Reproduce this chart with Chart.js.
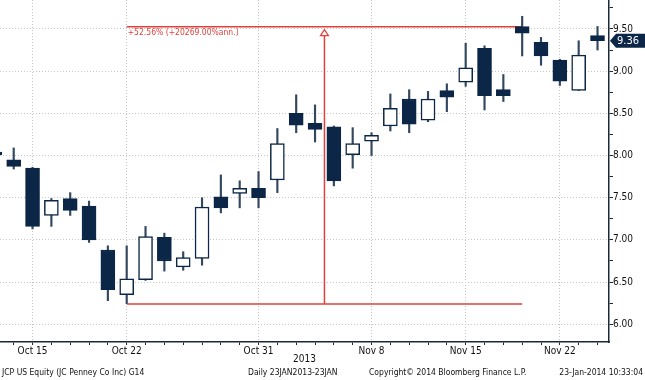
<!DOCTYPE html>
<html><head><meta charset="utf-8">
<script src="https://cdn.jsdelivr.net/npm/chart.js@4/dist/chart.umd.min.js"></script>
<style>html,body{margin:0;padding:0;background:#fff;overflow:hidden}</style>
</head><body>
<canvas id="c" width="645" height="380"></canvas>
<script>
// ---- data ----
const dates = ['Oct 11','Oct 14','Oct 15','Oct 16','Oct 17','Oct 18','Oct 21','Oct 22','Oct 23','Oct 24','Oct 25',
  'Oct 28','Oct 29','Oct 30','Oct 31','Nov 1','Nov 4','Nov 5','Nov 6','Nov 7','Nov 8','Nov 11','Nov 12','Nov 13',
  'Nov 14','Nov 15','Nov 18','Nov 19','Nov 20','Nov 21','Nov 22','Nov 25','Nov 26'];
const openP  = [8.04,7.95,7.85,7.29,7.49,7.40,6.88,6.35,6.53,7.03,6.68,6.78,7.51,7.55,7.61,7.71,8.50,8.38,8.34,8.01,8.17,8.35,8.67,8.42,8.77,8.87,9.27,8.78,9.527,9.34,9.13,8.77,9.42];
const highP  = [8.08,8.09,7.86,7.49,7.56,7.46,6.93,6.93,7.16,7.08,6.86,7.50,7.77,7.70,7.81,8.32,8.72,8.60,8.35,8.33,8.27,8.73,8.78,8.76,8.85,9.33,9.30,8.96,9.65,9.40,9.14,9.36,9.53];
const lowP   = [7.98,7.84,7.13,7.16,7.29,6.97,6.28,6.245,6.52,6.63,6.64,6.70,7.32,7.38,7.38,7.56,8.27,8.16,7.64,7.85,8.00,8.29,8.27,8.40,8.52,8.82,8.54,8.64,9.18,9.07,8.83,8.77,9.25];
const closeP = [8.01,7.87,7.16,7.47,7.35,7.00,6.41,6.54,7.04,6.75,6.79,7.39,7.38,7.61,7.50,8.14,8.36,8.31,7.70,8.14,8.24,8.56,8.37,8.67,8.69,9.04,8.71,8.71,9.45,9.18,8.88,9.19,9.36];
const xTickLabels = ['Oct 15','Oct 22','Oct 31','Nov 8','Nov 15','Nov 22'];
const yMajorTicks = [6.00,6.50,7.00,7.50,8.00,8.50,9.00,9.50];
const yMinorTicks = [6.25,6.75,7.25,7.75,8.25,8.75,9.25,9.75];
// measurement annotation: from Oct 22 low to Nov 20 high
const annStartIdx = 7, annEndIdx = 28;
const annLow = 6.24, annHigh = 9.527;
const annText = '+52.56% (+20269.00%ann.)';
const yearLabel = '2013';
const footerLeft = 'JCP US Equity (JC Penney Co Inc) G14';
const footerMid1 = 'Daily 23JAN2013-23JAN';
const footerMid2 = 'Copyright\u00A9 2014 Bloomberg Finance L.P.';
const footerRight = '23-Jan-2014 10:33:04';

// ---- styling ----
const FONT = '"DejaVu Sans Condensed","DejaVu Sans",sans-serif';
const NAVY = '#0b2646';
const WICK = '#33475e';
const GRID = '#c4c4c4';
const AXIS = '#1a2a3a';
const RED = '#e2403c';

const labelSet = new Set(xTickLabels);
const bodyData = dates.map((d,i)=>({x:i, y:[openP[i], closeP[i]]}));
const wickData = dates.map((d,i)=>({x:i, y:[lowP[i], highP[i]]}));
const bodyFill = dates.map((d,i)=> closeP[i] >= openP[i] ? '#ffffff' : NAVY);
const isMajorY = v => yMajorTicks.some(t => Math.abs(t - v) < 1e-6);

const extras = {
  id:'extras',
  beforeDatasetsDraw(chart){
    const {ctx, scales:{x, y}} = chart;
    const x1 = x.getPixelForValue(annStartIdx), x2 = x.getPixelForValue(annEndIdx);
    const yl = y.getPixelForValue(annLow), yh = y.getPixelForValue(annHigh);
    const xm = x.getPixelForValue((annStartIdx + annEndIdx)/2);
    ctx.save();
    ctx.strokeStyle = RED; ctx.lineWidth = 1.5;
    ctx.beginPath();
    ctx.moveTo(x1, yh); ctx.lineTo(x2, yh);
    ctx.moveTo(x1, yl); ctx.lineTo(x2, yl);
    ctx.moveTo(xm, yl); ctx.lineTo(xm, yh + 9);
    ctx.stroke();
    // hollow arrow head
    ctx.beginPath();
    ctx.moveTo(xm, yh + 3); ctx.lineTo(xm - 4, yh + 9); ctx.lineTo(xm + 4, yh + 9); ctx.closePath();
    ctx.fillStyle = '#fff'; ctx.fill(); ctx.lineWidth = 1.2; ctx.stroke();
    ctx.fillStyle = RED;
    ctx.font = '8.5px ' + FONT;
    ctx.textBaseline = 'middle'; ctx.textAlign = 'left';
    ctx.fillText(annText, x1 + 1, yh + 6);
    ctx.restore();
  },
  afterDraw(chart){
    const {ctx, chartArea, scales:{y}} = chart;
    ctx.save();
    // last price tag
    const last = closeP[closeP.length-1];
    const py = y.getPixelForValue(last);
    const ax = chartArea.right;
    ctx.fillStyle = NAVY;
    ctx.beginPath();
    ctx.moveTo(ax + 1, py); ctx.lineTo(ax + 7, py - 7); ctx.lineTo(645, py - 7);
    ctx.lineTo(645, py + 7); ctx.lineTo(ax + 7, py + 7); ctx.closePath(); ctx.fill();
    ctx.fillStyle = '#fff'; ctx.font = '11px ' + FONT;
    ctx.textBaseline = 'middle'; ctx.textAlign = 'left';
    ctx.fillText(last.toFixed(2), ax + 8, py + 0.5);
    // year
    ctx.fillStyle = '#111'; ctx.font = '10px ' + FONT; ctx.textAlign = 'center';
    ctx.fillText(yearLabel, (chartArea.left + chartArea.right)/2, 359);
    // footer
    ctx.font = '8.5px ' + FONT; ctx.textAlign = 'left';
    ctx.fillText(footerLeft, 2, 373);
    ctx.fillText(footerMid1, 248, 373);
    ctx.fillText(footerMid2, 369, 373);
    ctx.textAlign = 'right';
    ctx.fillText(footerRight, 643, 373);
    ctx.restore();
  }
};

new Chart(document.getElementById('c'), {
  type:'bar',
  data:{datasets:[
    {label:'body', data: bodyData, backgroundColor: bodyFill, borderColor: NAVY, borderWidth:1.5,
     borderSkipped:false, barThickness:14, grouped:false, order:0, clip:0},
    {label:'wick', data: wickData, backgroundColor: WICK, borderWidth:0,
     barThickness:1.5, grouped:false, order:1, clip:0}
  ]},
  options:{
    responsive:false, animation:false, devicePixelRatio:1,
    layout:{padding:0},
    plugins:{legend:{display:false}, tooltip:{enabled:false}},
    scales:{
      x:{type:'linear', min:0.272, max:32.61, offset:false,
        afterBuildTicks(s){ s.ticks = dates.map((d,i)=>({value:i})).filter(t=>t.value>=1); },
        afterFit(s){ s.height = 38; s.paddingLeft = 0; s.paddingRight = 0; },
        ticks:{autoSkip:false, maxRotation:0, padding:0, color:'#111', font:{family:FONT, size:10},
          callback:(v)=> labelSet.has(dates[v]) ? dates[v] : ''},
        grid:{offset:false, color:(c)=> (c.tick && labelSet.has(dates[c.tick.value])) ? GRID : 'rgba(0,0,0,0)',
          tickColor:AXIS, tickLength:3, lineWidth:1},
        border:{display:true, color:AXIS, width:1.5, dash:[1,2]}
      },
      y:{type:'linear', position:'right', min:5.79, max:9.843, offset:false,
        afterBuildTicks(s){ s.ticks = yMajorTicks.concat(yMinorTicks).sort((a,b)=>a-b).map(v=>({value:v})); },
        afterFit(s){ s.width = 36; s.paddingTop = 0; s.paddingBottom = 0; },
        ticks:{autoSkip:false, padding:0, color:'#111', font:{family:FONT, size:10},
          callback:(v)=> isMajorY(v) ? v.toFixed(2) : ''},
        grid:{offset:false, color:(c)=> (c.tick && isMajorY(c.tick.value)) ? GRID : 'rgba(0,0,0,0)',
          tickColor:AXIS, tickLength:4, lineWidth:1},
        border:{display:true, color:AXIS, width:1.5, dash:[1,2]}
      }
    }
  },
  plugins:[extras]
});
</script>
</body></html>
